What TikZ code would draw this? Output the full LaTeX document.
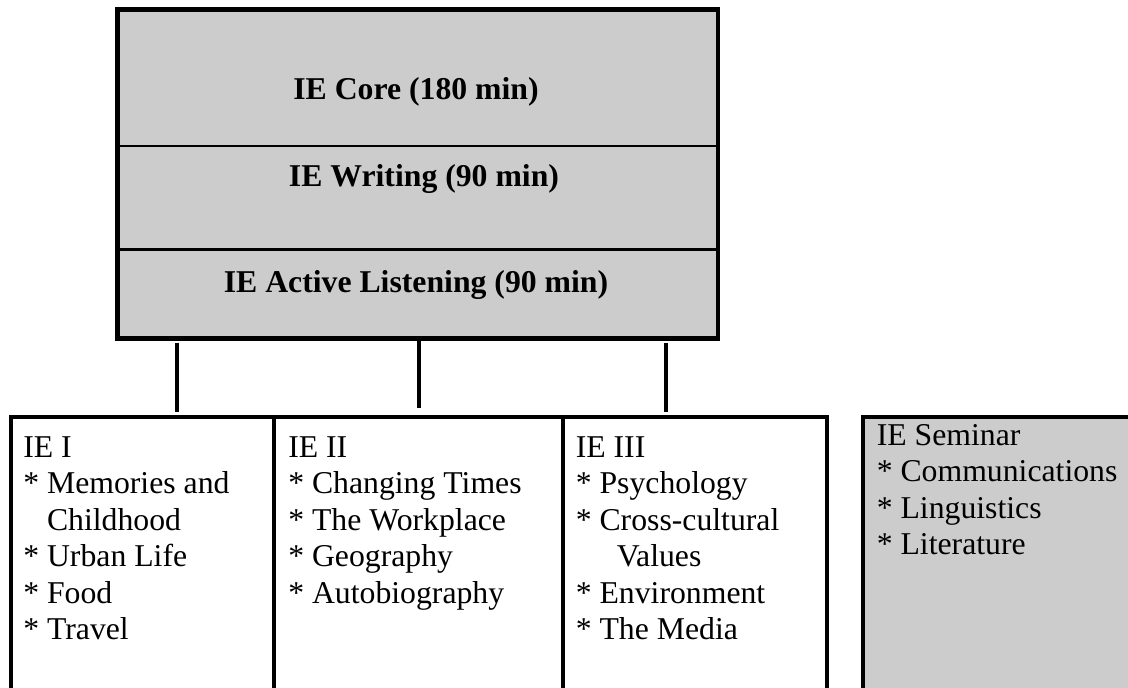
\documentclass[tikz,border=0pt]{standalone}
\usepackage{fontspec}
\setmainfont{Liberation Serif}
\definecolor{boxgray}{RGB}{204,204,204}
\newcommand{\bul}{{*}~}
\begin{document}
\begin{tikzpicture}[x=0.75pt,y=-0.75pt,
  cell/.style={draw, line width=2pt, fill=boxgray, inner sep=0pt, anchor=north west, minimum width=448.875pt},
  frame/.style={line width=3pt},
  listbox/.style={draw, line width=3pt, inner sep=0pt, anchor=north west, minimum height=229pt},
  conn/.style={line width=3pt},
  title/.style={font=\bfseries\fontsize{23.8pt}{27.4pt}\selectfont, inner sep=0pt, anchor=base},
  itemtext/.style={font=\fontsize{23.8pt}{27.4pt}\selectfont, inner sep=0pt, anchor=base west}]
\useasboundingbox (0,0) rectangle (1128,687);
\clip (0,0) rectangle (1128,687);
% top stacked box
\node[cell, minimum height=101.775pt] (core) at (117,9) {};
\node[cell, minimum height=77.7pt] (writing) at (117,144.7) {};
\node[cell, minimum height=65.775pt] (listening) at (117,248.3) {};
\draw[frame] (core.north west) rectangle (listening.south east);
\node[title] (coretext) at (416,99) {IE Core (180 min)};
\node[title] (writingtext) at (424,186.7) {IE Writing (90 min)};
\node[title] (listeningtext) at (416,292) {IE Active Listening (90 min)};
% bottom boxes
\node[listbox, minimum width=197.25pt] (ie1) at (9,414.7) {};
\node[listbox, minimum width=216.75pt] (ie2) at (272,414.7) {};
\node[listbox, minimum width=198pt] (ie3) at (561,414.7) {};
\node[listbox, fill=boxgray, minimum width=231.75pt] (sem) at (861,414.7) {};
% connectors
\coordinate (k1) at (177,0);
\coordinate (k2) at (419,0);
\coordinate (k3) at (666,0);
\draw[conn, shorten <=3pt, shorten >=2pt] (listening.south -| k1) -- (ie1.north -| k1);
\draw[conn, shorten <=1.5pt, shorten >=5pt] (listening.south -| k2) -- (ie2.north -| k2);
\draw[conn, shorten <=3pt, shorten >=2pt] (listening.south -| k3) -- (ie3.north -| k3);
% texts
\node[itemtext] (ie1text) at (23,457.3) {\begin{tabular}[t]{@{}l@{}}IE I\\
\bul Memories and\\
\phantom{\bul}Childhood\\
\bul Urban Life\\
\bul Food\\
\bul Travel\end{tabular}};
\node[itemtext] (ie2text) at (288,457.3) {\begin{tabular}[t]{@{}l@{}}IE II\\
\bul Changing Times\\
\bul The Workplace\\
\bul Geography\\
\bul Autobiography\end{tabular}};
\node[itemtext] (ie3text) at (575.5,457.3) {\begin{tabular}[t]{@{}l@{}}IE III\\
\bul Psychology\\
\bul Cross-cultural\\
\hspace*{30.75pt}Values\\
\bul Environment\\
\bul The Media\end{tabular}};
\node[itemtext] (semtext) at (876.5,445) {\begin{tabular}[t]{@{}l@{}}IE Seminar\\
\bul Communications\\
\bul Linguistics\\
\bul Literature\end{tabular}};
\end{tikzpicture}
\end{document}
